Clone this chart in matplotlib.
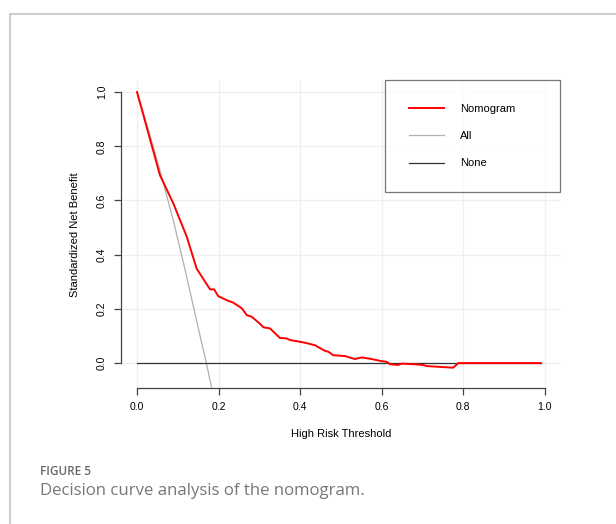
import matplotlib
matplotlib.use("Agg")
import matplotlib.pyplot as plt
from matplotlib.lines import Line2D

plt.rcParams['font.family'] = ['Liberation Sans', 'DejaVu Sans']

# threshold probabilities and standardized net benefit
nomo_x = [0.0, 0.056, 0.089, 0.122, 0.146, 0.179, 0.189, 0.199, 0.22, 0.236,
          0.257, 0.269, 0.281, 0.301, 0.31, 0.326, 0.35, 0.367, 0.375, 0.391,
          0.412, 0.436, 0.461, 0.469, 0.481, 0.51, 0.534, 0.551, 0.575, 0.6,
          0.612, 0.62, 0.64, 0.649, 0.677, 0.702, 0.71, 0.775, 0.788, 0.99]
nomo_y = [1.0, 0.694, 0.589, 0.466, 0.349, 0.272, 0.272, 0.247, 0.232, 0.223,
          0.202, 0.177, 0.171, 0.146, 0.132, 0.128, 0.093, 0.091, 0.085, 0.081,
          0.075, 0.066, 0.045, 0.042, 0.029, 0.026, 0.015, 0.021, 0.015, 0.007,
          0.005, -0.004, -0.007, -0.002, -0.004, -0.007, -0.011, -0.017, 0.0, 0.0]

all_x = [0.0, 0.03, 0.06, 0.09, 0.12, 0.15, 0.17, 0.183]
all_y = [1.0, 0.85, 0.69, 0.52, 0.33, 0.13, 0.0, -0.092]

none_x = [0.0, 0.99]
none_y = [0.0, 0.0]

fig = plt.figure(figsize=(6.16, 5.24), dpi=100)
ax = fig.add_axes([0.196, 0.2595, 0.715, 0.5865])

ax.set_xlim(-0.04, 1.04)
ax.set_ylim(-0.092, 1.042)

ticks = [0.0, 0.2, 0.4, 0.6, 0.8, 1.0]
ax.set_xticks(ticks)
ax.set_yticks(ticks)
ax.set_xticklabels(['%.1f' % t for t in ticks])
ax.set_yticklabels(['%.1f' % t for t in ticks], rotation=90, va='center')
ax.grid(True, color='#efefef', linewidth=0.9)
ax.set_axisbelow(True)

for s in ['top', 'right']:
    ax.spines[s].set_visible(False)
ax.spines['left'].set_bounds(0, 1)
ax.spines['bottom'].set_bounds(0, 1)
for s in ['left', 'bottom']:
    ax.spines[s].set_color('#444444')
    ax.spines[s].set_linewidth(0.9)
ax.tick_params(length=5, width=0.9, color='#444444', labelsize=7.5, pad=5)

ax.plot(nomo_x, nomo_y, color='red', lw=1.4, label='Nomogram', zorder=4)
ax.plot(all_x, all_y, color='#b0b0b0', lw=0.9, label='All', zorder=3)
ax.plot(none_x, none_y, color='#333333', lw=0.9, label='None', zorder=3)

ax.set_xlabel('High Risk Threshold', fontsize=8)
ax.set_ylabel('Standardized Net Benefit', fontsize=8)
ax.xaxis.set_label_coords(0.5, -0.133)
ax.yaxis.set_label_coords(-0.092, 0.5)

leg = ax.legend(loc='upper left', bbox_to_anchor=(0.600, 0.644, 0.397, 0.358),
                mode='expand', borderaxespad=0, fontsize=8, fancybox=False,
                edgecolor='#555555', borderpad=2.15, labelspacing=1.55,
                handlelength=3.2, handletextpad=1.4)
leg.get_frame().set_linewidth(0.9)

# page frame and caption
fig.add_artist(Line2D([0.0155, 1.0], [0.974, 0.974], color='#c0c0c0', lw=1.1))
fig.add_artist(Line2D([0.0155, 0.0155], [0.0, 0.974], color='#c0c0c0', lw=1.1))
fig.text(0.065, 0.101, 'FIGURE 5', fontsize=8.5, color='#666666',
         family='Open Sans', weight='semibold', va='center')
fig.text(0.065, 0.063, 'Decision curve analysis of the nomogram.', fontsize=12.1,
         color='#777777', family='Open Sans', va='center')

fig.savefig('out.png', dpi=100)
